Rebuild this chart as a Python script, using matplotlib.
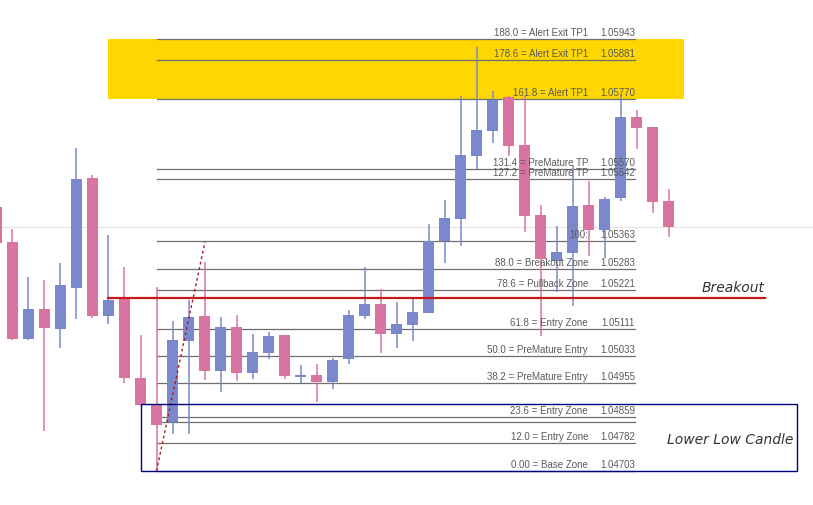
import matplotlib
matplotlib.use("Agg")
import matplotlib.pyplot as plt
from matplotlib.patches import Rectangle

# OHLC of each candle, left to right
opens = [1.05461, 1.05360, 1.05082, 1.05168, 1.05111, 1.05228, 1.05544, 1.05148, 1.05197, 1.04970,
         1.04892, 1.04844, 1.05076, 1.05148, 1.04990, 1.05116, 1.04984, 1.05042, 1.05093, 1.04973,
         1.04979, 1.04958, 1.05024, 1.05148, 1.05182, 1.05096, 1.05122, 1.05157, 1.05363, 1.05426,
         1.05607, 1.05679, 1.05776, 1.05639, 1.05438, 1.05306, 1.05329, 1.05466, 1.05395, 1.05487,
         1.05719, 1.05690, 1.05478]
highs = [1.05470, 1.05398, 1.05260, 1.05251, 1.05300, 1.05630, 1.05553, 1.05380, 1.05289, 1.05093,
         1.05231, 1.05134, 1.05194, 1.05303, 1.05145, 1.05151, 1.05096, 1.05102, 1.05093, 1.05007,
         1.05010, 1.05027, 1.05165, 1.05289, 1.05225, 1.05188, 1.05202, 1.05412, 1.05481, 1.05779,
         1.05920, 1.05794, 1.05778, 1.05779, 1.05466, 1.05406, 1.05581, 1.05535, 1.05489, 1.05782,
         1.05739, 1.05690, 1.05512]
lows = [1.05350, 1.05079, 1.05079, 1.04818, 1.05056, 1.05139, 1.05142, 1.05125, 1.04956, 1.04890,
        1.04703, 1.04809, 1.04809, 1.04964, 1.04930, 1.04961, 1.04967, 1.05024, 1.04967, 1.04956,
        1.04901, 1.04938, 1.05010, 1.05139, 1.05042, 1.05056, 1.05076, 1.05155, 1.05300, 1.05349,
        1.05570, 1.05644, 1.05607, 1.05389, 1.05091, 1.05217, 1.05177, 1.05320, 1.05314, 1.05478,
        1.05627, 1.05444, 1.05375]
closes = [1.05357, 1.05082, 1.05168, 1.05113, 1.05237, 1.05541, 1.05148, 1.05194, 1.04970, 1.04892,
          1.04835, 1.05079, 1.05145, 1.04990, 1.05116, 1.04984, 1.05045, 1.05091, 1.04976, 1.04979,
          1.04958, 1.05022, 1.05151, 1.05182, 1.05096, 1.05125, 1.05159, 1.05363, 1.05429, 1.05610,
          1.05682, 1.05768, 1.05636, 1.05435, 1.05311, 1.05332, 1.05464, 1.05395, 1.05484, 1.05719,
          1.05687, 1.05475, 1.05403]

# fibonacci levels (the 21.4 line has no label)
fib_names = ["188.0 = Alert Exit TP1", "178.6 = Alert Exit TP1", "161.8 = Alert TP1",
             "131.4 = PreMature TP", "127.2 = PreMature TP", "100:", "88.0 = Breakout Zone",
             "78.6 = Pullback Zone", "61.8 = Entry Zone", "50.0 = PreMature Entry",
             "38.2 = PreMature Entry", "23.6 = Entry Zone", "", "12.0 = Entry Zone", "0.00 = Base Zone"]
fib_prices = [1.05943, 1.05881, 1.05770, 1.05570, 1.05542, 1.05363, 1.05283, 1.05221,
              1.05111, 1.05033, 1.04955, 1.04859, 1.04844, 1.04782, 1.04703]
breakout_price = 1.05199
box_top = 1.04895

BLUE = "#7b89cc"
PINK = "#d974a0"
TXT = "#5a5a5a"

fig = plt.figure(figsize=(8.13, 5.06), dpi=100)
ax = fig.add_axes([0, 0, 1, 1])
ax.set_xlim(0.219, 51.03)
ax.set_ylim(1.046054, 1.060574)
ax.axis("off")

# alert zone (yellow box between 161.8 and 188.0)
ax.add_patch(Rectangle((6.97, fib_prices[2]), 36.0, fib_prices[0] - fib_prices[2],
                       facecolor="#ffd700", edgecolor="none", zorder=0))

# last price line
ax.axhline(closes[-1], color="#e6e6e6", lw=0.8, zorder=0.5)

# fib lines and labels
for name, y in zip(fib_names, fib_prices):
    ax.plot([10.03, 39.9], [y, y], color="#6e6e6e", lw=0.9, zorder=1)
    if name:
        ax.annotate(name, (36.97, y), xytext=(0, 1.5), textcoords="offset points",
                    ha="right", va="bottom", fontsize=7, color=TXT, zorder=4,
                    family="Liberation Sans")
        ax.annotate("%.5f" % y, (39.9, y), xytext=(0, 1.5), textcoords="offset points",
                    ha="right", va="bottom", fontsize=7, color=TXT, zorder=4,
                    family="Liberation Sans")

# candles
for i, (o, h, l, c) in enumerate(zip(opens, highs, lows, closes)):
    col = BLUE if c >= o else PINK
    ax.vlines(i, l, h, color=col, lw=1.1, zorder=2)
    ax.add_patch(Rectangle((i - 0.34, min(o, c)), 0.68, max(abs(c - o), 0.00004),
                           facecolor=col, edgecolor="none", zorder=3))

# dotted trend from the low
ax.plot([10, 13.03], [fib_prices[-1], 1.05360], color="#b01818", lw=1.0, ls=(0, (2, 2)), zorder=4)

# breakout line
ax.plot([6.97, 48.03], [breakout_price, breakout_price], color="#c8161d", lw=1.6, zorder=5)
ax.annotate("Breakout", (48.0, breakout_price), xytext=(0, 3), textcoords="offset points",
            ha="right", va="bottom", fontsize=10, color="#333333", style="italic")

# lower low candle box
ax.add_patch(Rectangle((9.03, fib_prices[-1]), 41.0, box_top - fib_prices[-1], facecolor="none",
                       edgecolor="#000080", lw=1.0, zorder=5))
ax.text(49.8, 1.04795, "Lower Low Candle", ha="right", va="center", fontsize=10,
        color="#333333", style="italic")

fig.savefig("out.png", dpi=100)
